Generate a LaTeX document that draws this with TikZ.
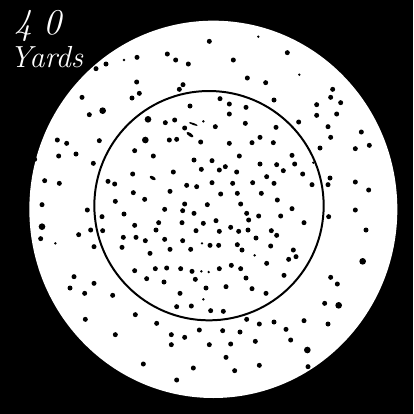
\documentclass[tikz,border=0pt]{standalone}
\usepackage{tikz}

\begin{document}
\begin{tikzpicture}[
    x=0.1mm, y=-0.1mm,
    pellet/.style={fill=black},
    target/.style={fill=white},
    ring/.style={draw=black, line width=1.7pt},
    legend/.style={text=white, font=\itshape\fontsize{26}{28}\selectfont, anchor=west, inner sep=0pt}
]

% background and target sheet
\fill[black] (0,0) rectangle (1239,1242);
\fill[target] (640,628) ellipse [x radius=552, y radius=566];
\draw[ring] (627,617) circle [radius=344];

\node[legend, font=\itshape\fontsize{31}{33}\selectfont] (dist) at (44,78) {4\kern0.3em0};
\node[legend] (unit) at (28,172) {Yards};

% shot holes
\foreach \px/\py in {
    628/124, 862/158, 502/162, 411/172, 527/180, 565/192, 700/180, 318/192, 288/206,
    742/234, 797/248, 410/246, 549/254, 538/268, 418/280, 396/294, 246/292, 660/296,
    822/300, 998/268, 992/292, 1022/308, 950/314, 570/318, 688/312, 738/322, 268/344,
    950/346, 1010/342, 688/342, 496/368, 524/360, 554/384, 646/380, 736/370, 828/382,
    896/366, 984/380, 1084/396, 1108/436, 172/420, 200/430, 298/422, 508/420,
    530/418, 602/426, 688/430, 780/412, 756/428, 820/428, 992/412, 960/444, 1066/446,
    176/468, 228/462, 404/452, 460/468, 582/480, 636/482, 718/468, 676/500, 876/466,
    104/478, 280/490, 520/516, 604/508, 658/510, 710/516, 780/492, 830/494, 884/492,
    850/512, 800/530, 908/522, 990/534, 134/542, 178/550, 324/544, 344/552, 398/522,
    560/556, 590/560, 636/548, 698/550, 758/548, 822/550, 936/554, 984/554, 1066/546,
    1106/570, 400/578, 510/574, 434/598, 554/612, 622/614, 662/582, 712/580, 784/580,
    832/600, 876/626, 126/614, 262/630, 346/604, 494/628, 548/632, 582/640, 722/612,
    740/640, 776/648, 842/648, 986/650, 1066/630, 1098/690, 306/650, 372/642, 404/676,
    476/668, 546/668, 610/670, 648/662, 692/682, 746/660, 912/668, 236/704, 272/690,
    308/692, 370/712, 408/712, 436/722, 468/690, 494/718, 548/722, 588/692, 658/694,
    716/694, 744/690, 768/714, 814/692, 830/706, 122/716, 282/740, 366/742, 450/760,
    510/748, 572/748, 630/736, 656/736, 712/734, 726/750, 812/738, 880/750, 888/770,
    866/778, 106/802, 404/812, 466/806, 500/804, 542/806, 576/814, 658/806, 694/796,
    722/806, 800/790, 852/826, 222/830, 282/850, 210/864, 254/880, 440/836, 492/846,
    586/838, 618/864, 678/860, 738/834, 756/866, 798/880, 992/832, 1012/852, 338/886,
    540/880, 530/920, 574/918, 632/932, 670/934, 974/910, 256/958, 406/944, 470/970,
    740/958, 778/972, 822/966, 912/962, 984/972, 346/1004, 514/1004, 554/1012, 598/990,
    668/992, 720/996, 858/988, 872/1020, 514/1034, 628/1034, 692/1032, 766/1024,
    678/1072, 430/1092, 580/1104, 704/1112, 778/1096, 924/1100, 530/1140}
    \fill[pellet] (\px,\py) circle [radius=7.5];

% larger holes
\foreach \px/\py in {444/358, 308/332, 126/680, 1088/784, 1016/916, 922/1050, 436/420}
    \fill[pellet] (\px,\py) circle [radius=10];

% small marks
\foreach \px/\py in {775/110, 372/180, 898/224, 610/364, 166/730, 606/730, 604/814,
    610/898, 940/488, 764/766, 626/816}
    \fill[pellet] (\px,\py) circle [radius=4];

% torn bits
\fill[pellet, rotate around={-20:(580,372)}] (580,372) ellipse [x radius=14, y radius=3];
\fill[pellet, rotate around={-35:(570,404)}] (570,404) ellipse [x radius=12, y radius=5];
\fill[pellet, rotate around={-30:(458,534)}] (458,534) ellipse [x radius=10, y radius=5];

\end{tikzpicture}
\end{document}
